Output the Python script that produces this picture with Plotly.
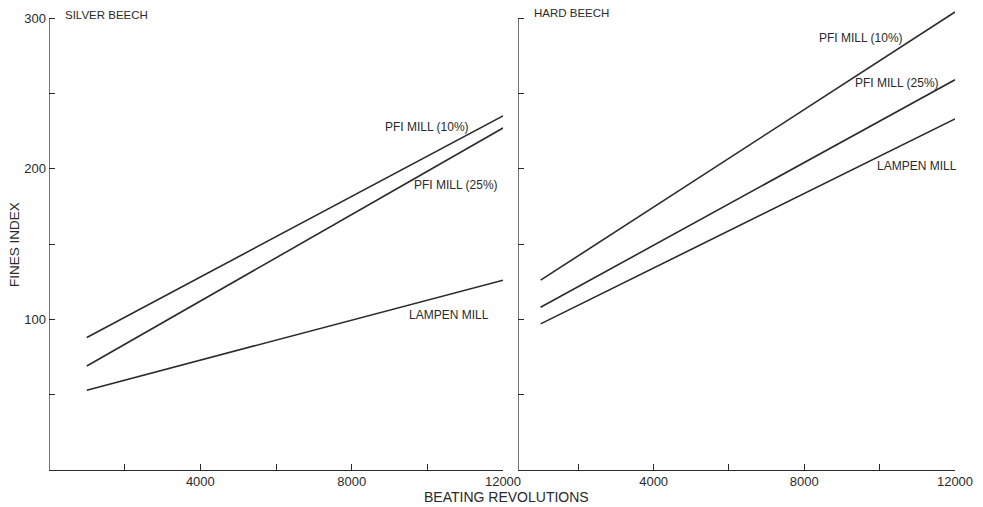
import plotly.graph_objects as go

# ---- data ----
revolutions = [1000, 12000]
silver_pfi10 = [88, 235]
silver_pfi25 = [69, 227]
silver_lampen = [53, 126]
hard_pfi10 = [126, 304]
hard_pfi25 = [108, 259]
hard_lampen = [97, 233]

series_names = ["PFI MILL (10%)", "PFI MILL (25%)", "LAMPEN MILL"]
panel_titles = ["SILVER BEECH", "HARD BEECH"]
x_tickvals = [2000, 4000, 6000, 8000, 10000, 12000]
x_ticktext = ["", "4000", "", "8000", "", "12000"]
y_tickvals = [50, 100, 150, 200, 250, 300]
y_ticktext = ["", "100", "", "200", "", "300"]

INK = "#2a2a2a"
FONT = "Liberation Sans, Arial, Helvetica, sans-serif"

fig = go.Figure()
for ys, name in zip([silver_pfi10, silver_pfi25, silver_lampen], series_names):
    fig.add_trace(go.Scatter(x=revolutions, y=ys, mode="lines", name=name,
                             line=dict(color=INK, width=1.6), xaxis="x", yaxis="y",
                             showlegend=False))
for ys, name in zip([hard_pfi10, hard_pfi25, hard_lampen], series_names):
    fig.add_trace(go.Scatter(x=revolutions, y=ys, mode="lines", name=name,
                             line=dict(color=INK, width=1.6), xaxis="x2", yaxis="y2",
                             showlegend=False))

# page body adds an 8px offset; figure coords = screen coords - 8
OFF = 8
W, H = 983 - OFF, 507 - OFF
ml, mr, mt, mb = 49 - OFF, W - (955 - OFF), 1, H - (470 - OFF)
pw = W - ml - mr
ph = H - mt - mb
d1 = (503 - 49) / pw
d2 = (518 - 49) / pw

def px_to_paper(sx, sy):
    fx, fy = sx - OFF, sy - OFF
    return (fx - ml) / pw, (H - mb - fy) / ph

axis_common = dict(showgrid=False, zeroline=False, ticks="inside", ticklen=6,
                   tickwidth=1.3, tickcolor=INK, linecolor=INK, linewidth=1.3,
                   automargin=False,
                   tickfont=dict(family=FONT, size=13, color=INK))

fig.update_layout(
    width=W, height=H,
    margin=dict(l=ml, r=mr, t=mt, b=mb),
    plot_bgcolor="white", paper_bgcolor="white",
    font=dict(family=FONT, color=INK),
    xaxis=dict(domain=[0, d1], range=[0, 12000], tickvals=x_tickvals, ticktext=x_ticktext,
               showline=True, anchor="y", ticklabelstandoff=-1, **axis_common),
    xaxis2=dict(domain=[d2, 1], range=[400, 12000], tickvals=x_tickvals, ticktext=x_ticktext,
                showline=True, anchor="y2", ticklabelstandoff=-1, **axis_common),
    yaxis=dict(domain=[0, 1], range=[0, 306], tickvals=y_tickvals, ticktext=y_ticktext,
               showline=False, anchor="x", ticklabelstandoff=2, **axis_common),
    yaxis2=dict(domain=[0, 1], range=[0, 306], tickvals=y_tickvals, showticklabels=False,
                showline=False, anchor="x2", **axis_common),
)

# y axis lines up to 300
fig.add_shape(type="line", xref="x", yref="y", x0=0, x1=0, y0=0, y1=300,
              line=dict(color=INK, width=1.3))
fig.add_shape(type="line", xref="x2", yref="y2", x0=400, x1=400, y0=0, y1=300,
              line=dict(color=INK, width=1.3))

ann_font = dict(family=FONT, size=12, color=INK)
# panel titles
sx, sy = px_to_paper(63, 15)
fig.add_annotation(text=panel_titles[0], xref="paper", yref="paper", x=sx, y=sy,
                   xanchor="left", yanchor="middle", showarrow=False,
                   font=dict(family=FONT, size=11.5, color=INK))
hx, hy = px_to_paper(532, 13)
fig.add_annotation(text=panel_titles[1], xref="paper", yref="paper", x=hx, y=hy,
                   xanchor="left", yanchor="middle", showarrow=False,
                   font=dict(family=FONT, size=11.5, color=INK))
# series labels
left_pos = [(10000, 228), (10770, 189), (10580, 103)]
right_pos = [(9500, 287), (10450, 257), (11000, 202)]
for name, (x, y) in zip(series_names, left_pos):
    fig.add_annotation(text=name, xref="x", yref="y", x=x, y=y, showarrow=False, font=ann_font)
for name, (x, y) in zip(series_names, right_pos):
    fig.add_annotation(text=name, xref="x2", yref="y2", x=x, y=y, showarrow=False, font=ann_font)

# axis titles
tx, ty = px_to_paper(506, 497)
fig.add_annotation(text="BEATING REVOLUTIONS", xref="paper", yref="paper",
                   x=tx, y=ty, xanchor="center", yanchor="middle",
                   showarrow=False, font=dict(family=FONT, size=14, color=INK))
fx, fy = px_to_paper(14, 245)
fig.add_annotation(text="FINES INDEX", xref="paper", yref="paper",
                   x=fx, y=fy, xanchor="center", yanchor="middle", textangle=-90,
                   showarrow=False, font=dict(family=FONT, size=13.5, color=INK))

fig.write_html("out.html")
